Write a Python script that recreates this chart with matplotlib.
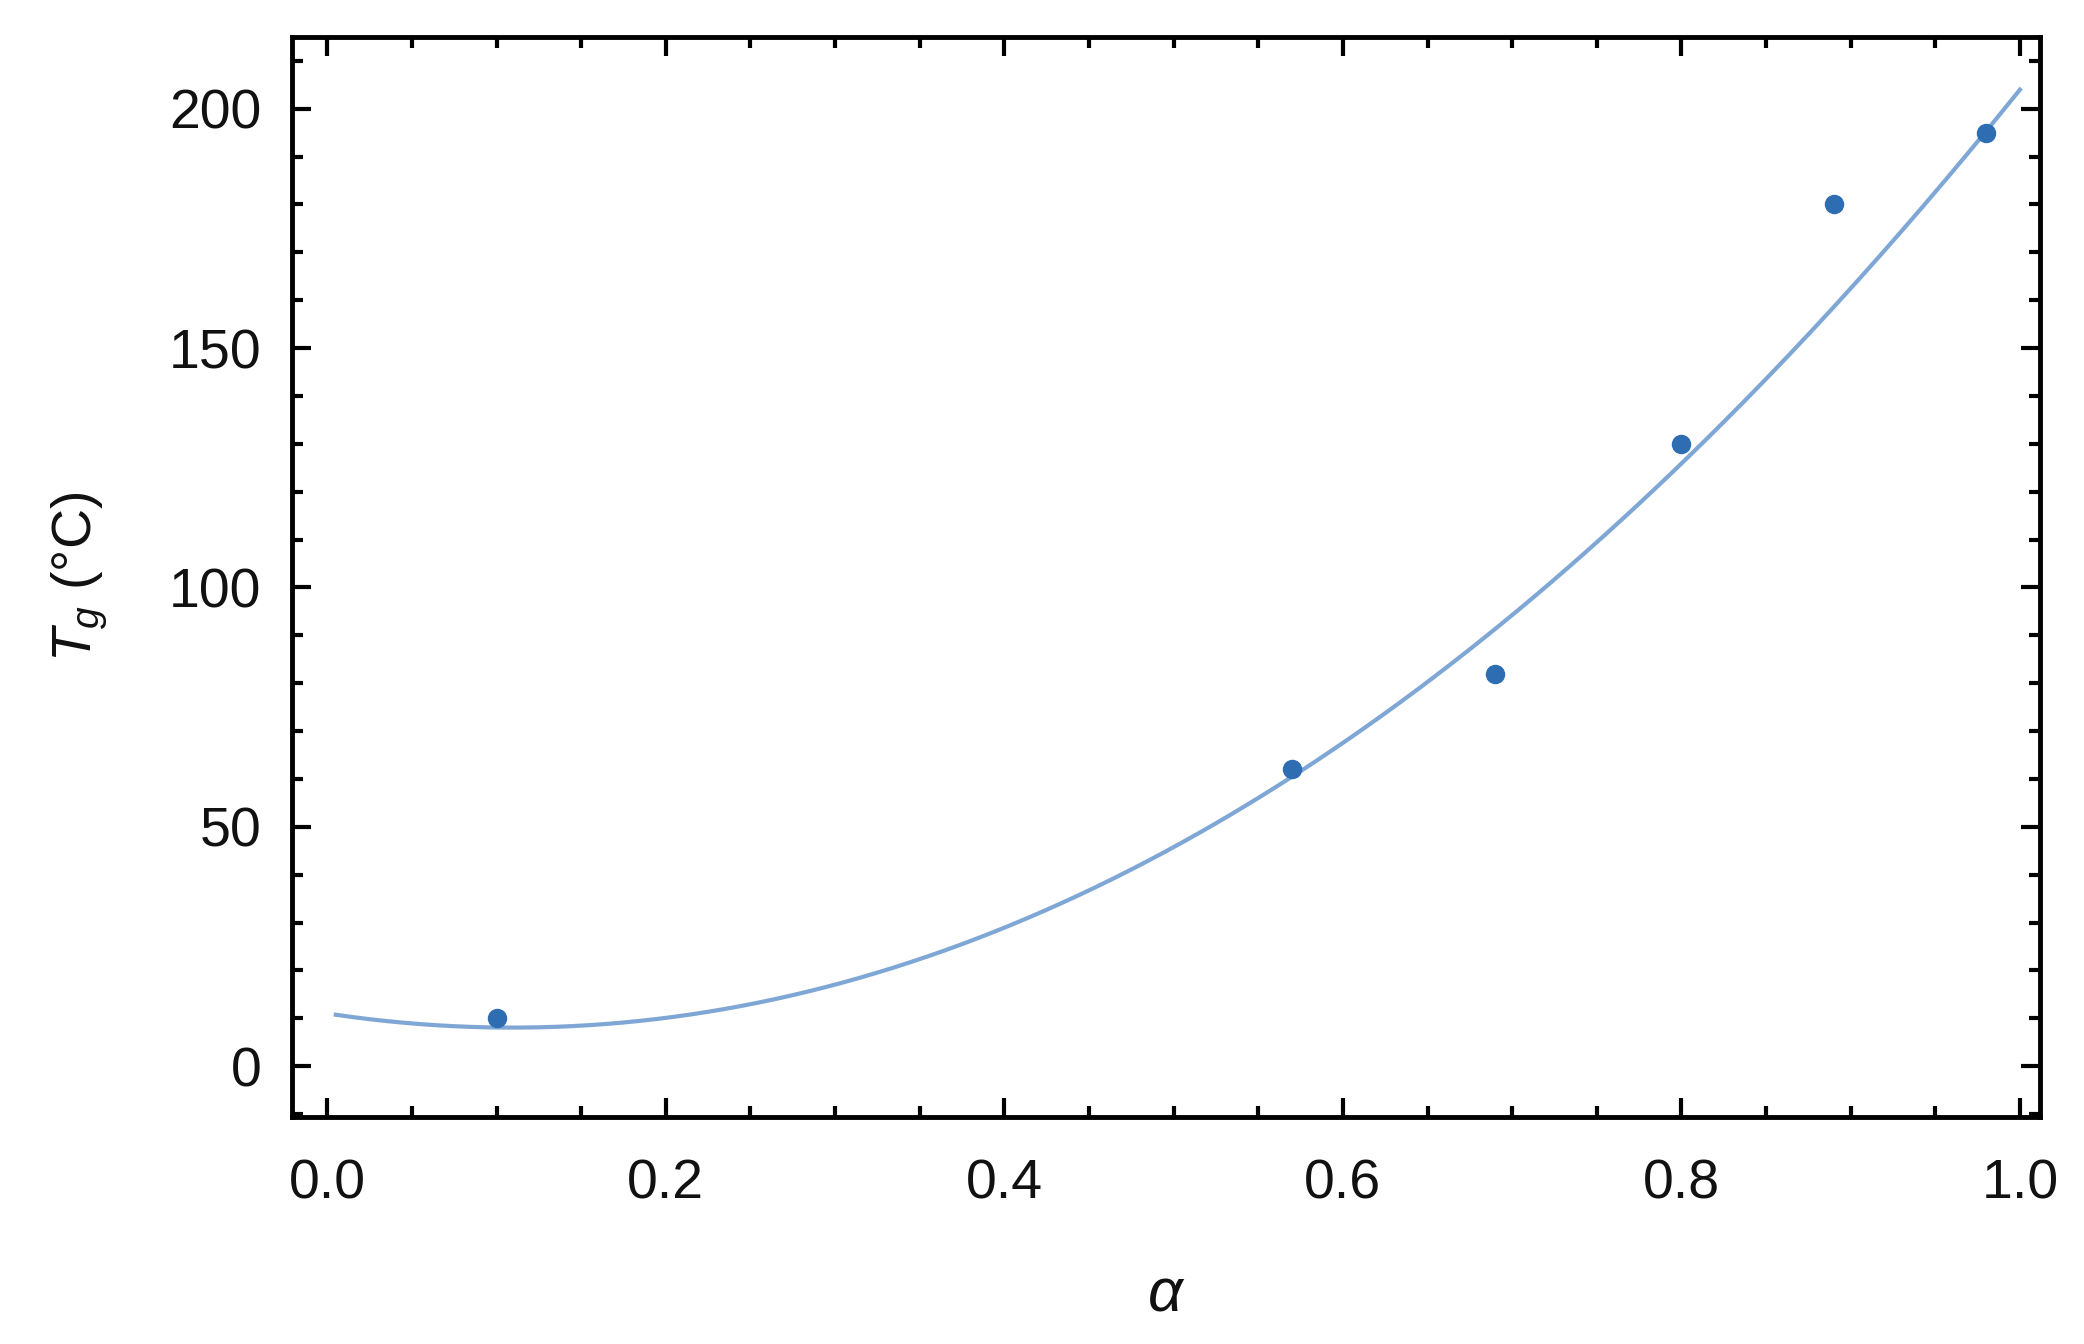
import numpy as np
import matplotlib.pyplot as plt
from matplotlib.ticker import MultipleLocator

plt.rcParams['font.family'] = ['Liberation Sans', 'DejaVu Sans']
plt.rcParams['mathtext.fontset'] = 'custom'
plt.rcParams['mathtext.rm'] = 'Liberation Sans'
plt.rcParams['mathtext.it'] = 'Liberation Sans:italic'

# measured points
alpha = [0.10, 0.57, 0.69, 0.80, 0.89, 0.98]
tg = [10, 62, 82, 130, 180, 195]

# quadratic fit curve, coefficients (c0 + c1*a + c2*a^2)
fit_coef = [247.0, -54.0, 11.0]
a_fit = np.linspace(0.005, 1.0, 300)
tg_fit = np.polyval(fit_coef, a_fit)

fig = plt.figure(figsize=(20.84, 13.44), dpi=100)
ax = fig.add_axes([0.140, 0.169, 0.839, 0.8035])

ax.plot(a_fit, tg_fit, color='#7fa7d6', lw=3)
ax.plot(alpha, tg, 'o', color='#2f6db3', ms=13)

ax.set_xlim(-0.021, 1.012)
ax.set_ylim(-10.6, 215)

ax.xaxis.set_major_locator(MultipleLocator(0.2))
ax.xaxis.set_minor_locator(MultipleLocator(0.05))
ax.yaxis.set_major_locator(MultipleLocator(50))
ax.yaxis.set_minor_locator(MultipleLocator(10))
ax.xaxis.set_major_formatter(plt.FuncFormatter(lambda v, p: f'{v:.1f}'))
ax.yaxis.set_major_formatter(plt.FuncFormatter(lambda v, p: f'{v:.0f}'))

ax.tick_params(which='both', direction='in', top=True, right=True,
               width=3, color='black', labelsize=40, labelcolor='#111111')
ax.tick_params(which='major', length=14)
ax.tick_params(which='minor', length=8)
ax.tick_params(axis='x', pad=30)
ax.tick_params(axis='y', pad=22)

for s in ax.spines.values():
    s.set_linewidth(3.5)
    s.set_color('black')

ax.set_xlabel(r'$\alpha$', fontsize=44, color='#111111', labelpad=40)
ax.set_ylabel(r'$T_g$ (°C)', fontsize=40, color='#111111', labelpad=42)

fig.savefig('out.png', dpi=100)
